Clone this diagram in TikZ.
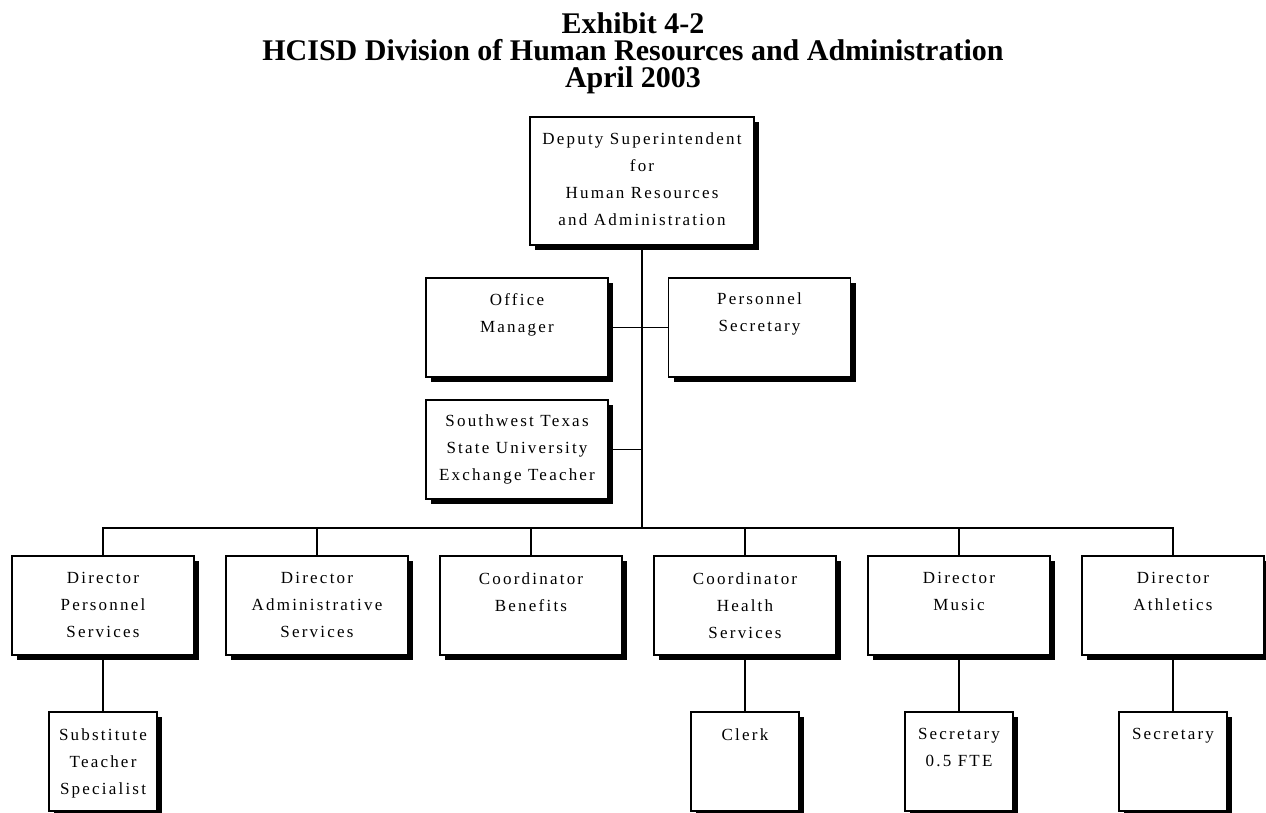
\documentclass[tikz,border=0pt]{standalone}
\usepackage{fontspec}
\setmainfont{Liberation Serif}
\newfontfamily\orgfont[LetterSpace=13]{Liberation Serif}
\usetikzlibrary{shadows}
\begin{document}
\begin{tikzpicture}[x=1pt,y=-1pt,
  orgbox/.style={draw=black, line width=1.7pt, fill=white, rectangle,
    inner sep=0pt, anchor=north, minimum width=182pt, minimum height=99pt,
    general shadow={fill=black, shadow xshift=5pt, shadow yshift=-5pt}},
  smallbox/.style={orgbox, minimum width=108pt},
  orgtext/.style={anchor=north, align=center, inner sep=0pt,
    font=\orgfont\fontsize{17}{27}\selectfont},
  titletext/.style={anchor=north, align=center, inner sep=0pt,
    font=\bfseries\fontsize{30}{27}\selectfont},
  conn/.style={draw=black, line width=1.7pt}]
\useasboundingbox (0,0) rectangle (1266,813);

% heading
\node[titletext] (title) at (633,12) {Exhibit 4-2\\HCISD Division of Human Resources and Administration\\April 2003};

% top of the division
\node[orgbox, minimum width=224pt, minimum height=128pt] (dep) at (642,116) {};
\node[orgtext] (depT) at ([yshift=-17pt]dep.north) {Deputy Superintendent\\for\\Human Resources\\and Administration};

% staff boxes
\node[orgbox] (om) at (517,277) {};
\node[orgtext] (omT) at ([yshift=-16pt]om.north) {Office\\Manager};
\node[orgbox] (ps) at (759.5,277) {};
\node[orgtext] (psT) at ([yshift=-16pt]ps.north) {Personnel\\Secretary};
\node[orgbox] (sw) at (517,399) {};
\node[orgtext] (swT) at ([yshift=-16pt]sw.north) {Southwest Texas\\State University\\Exchange Teacher};

% directors and coordinators
\node[orgbox] (d1) at (103,555) {};
\node[orgtext] (d1T) at ([yshift=-17pt]d1.north) {Director\\Personnel\\Services};
\node[orgbox] (d2) at (317,555) {};
\node[orgtext] (d2T) at ([yshift=-17pt]d2.north) {Director\\Administrative\\Services};
\node[orgbox] (d3) at (531,555) {};
\node[orgtext] (d3T) at ([yshift=-17pt]d3.north) {Coordinator\\Benefits};
\node[orgbox] (d4) at (745,555) {};
\node[orgtext] (d4T) at ([yshift=-17pt]d4.north) {Coordinator\\Health\\Services};
\node[orgbox] (d5) at (959,555) {};
\node[orgtext] (d5T) at ([yshift=-17pt]d5.north) {Director\\Music};
\node[orgbox] (d6) at (1173,555) {};
\node[orgtext] (d6T) at ([yshift=-17pt]d6.north) {Director\\Athletics};

% support staff
\node[smallbox] (s1) at (103,711) {};
\node[orgtext] (s1T) at ([yshift=-17pt]s1.north) {Substitute\\Teacher\\Specialist};
\node[smallbox] (s4) at (745,711) {};
\node[orgtext] (s4T) at ([yshift=-17pt]s4.north) {Clerk};
\node[smallbox] (s5) at (959,711) {};
\node[orgtext] (s5T) at ([yshift=-17pt]s5.north) {Secretary\\0.5 FTE};
\node[smallbox] (s6) at (1173,711) {};
\node[orgtext] (s6T) at ([yshift=-17pt]s6.north) {Secretary};

% reporting lines
\coordinate (bus) at (642,528);
\draw[conn] (dep.south) -- (bus);
\draw[conn] (om.east) -- (ps.west);
\draw[conn] (sw.east) -- (sw.east -| bus);
\draw[conn] (d1.north) -- (d1.north |- bus) -- (d6.north |- bus) -- (d6.north);
\foreach \n in {d2,d3,d4,d5} \draw[conn] (\n.north) -- (\n.north |- bus);
\draw[conn] (d1.south) -- (s1.north);
\draw[conn] (d4.south) -- (s4.north);
\draw[conn] (d5.south) -- (s5.north);
\draw[conn] (d6.south) -- (s6.north);
\end{tikzpicture}
\end{document}
